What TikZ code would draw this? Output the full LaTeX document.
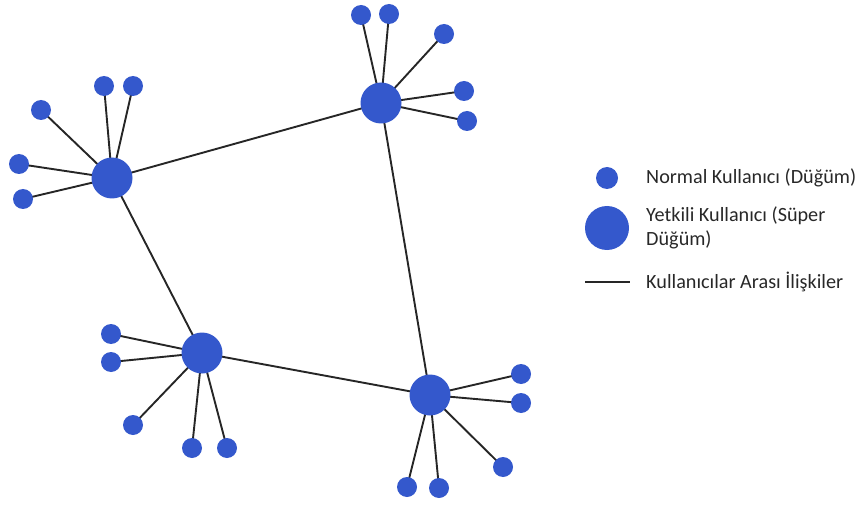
\documentclass[tikz,border=0pt]{standalone}
\usepackage{fontspec}
\setmainfont{Carlito}
\definecolor{nodeblue}{RGB}{52,88,204}
\definecolor{txt}{RGB}{40,40,40}
\begin{document}
\begin{tikzpicture}[x=1pt,y=-1pt,
  small/.style={circle,fill=nodeblue,inner sep=0pt,minimum size=20pt},
  super/.style={circle,fill=nodeblue,inner sep=0pt,minimum size=41pt},
  link/.style={line width=1.9pt,black!85},
  lbl/.style={anchor=west,text=txt,font=\fontsize{20.2}{24}\selectfont,inner sep=0pt}]
\useasboundingbox (0,0) rectangle (867,505);
% super nodes
\coordinate (A) at (112,178);
\coordinate (B) at (381,103);
\coordinate (C) at (202,353);
\coordinate (D) at (430,395);
% small node coords
\coordinate (a1) at (41,110);
\coordinate (a2) at (104,86);
\coordinate (a3) at (133,86);
\coordinate (a4) at (19,164);
\coordinate (a5) at (23,199);
\coordinate (b1) at (361,15);
\coordinate (b2) at (389,14);
\coordinate (b3) at (444,34);
\coordinate (b4) at (464,91);
\coordinate (b5) at (467,121);
\coordinate (c1) at (111,334);
\coordinate (c2) at (111,362);
\coordinate (c3) at (133,425);
\coordinate (c4) at (192,448);
\coordinate (c5) at (227,448);
\coordinate (d1) at (521,374);
\coordinate (d2) at (521,403);
\coordinate (d3) at (503,467);
\coordinate (d4) at (407,487);
\coordinate (d5) at (439,488);
% connectors
\draw[link] (A) -- (B) (B) -- (D) (A) -- (C) (C) -- (D);
\foreach \s in {a1,a2,a3,a4,a5} \draw[link] (A) -- (\s);
\foreach \s in {b1,b2,b3,b4,b5} \draw[link] (B) -- (\s);
\foreach \s in {c1,c2,c3,c4,c5} \draw[link] (C) -- (\s);
\foreach \s in {d1,d2,d3,d4,d5} \draw[link] (D) -- (\s);
% nodes
\foreach \s in {A,B,C,D} \node[super] (n\s) at (\s) {};
\foreach \s in {a1,a2,a3,a4,a5,b1,b2,b3,b4,b5,c1,c2,c3,c4,c5,d1,d2,d3,d4,d5}
  \node[small] (n\s) at (\s) {};
% legend
\node[small,minimum size=22pt] (ls) at (607,178) {};
\node[super,minimum size=44pt] (lb) at (607,228) {};
\coordinate (l1) at (585,282);
\coordinate (l2) at (630,282);
\draw[link,line width=1.6pt] (l1) -- (l2);
\node[lbl] (t1) at (646,178) {Normal Kullanıcı (Düğüm)};
\node[lbl,align=left,anchor=west] (t2) at (646,228) {Yetkili Kullanıcı (Süper\\Düğüm)};
\node[lbl] (t3) at (646,282) {Kullanıcılar Arası İlişkiler};
\end{tikzpicture}
\end{document}
